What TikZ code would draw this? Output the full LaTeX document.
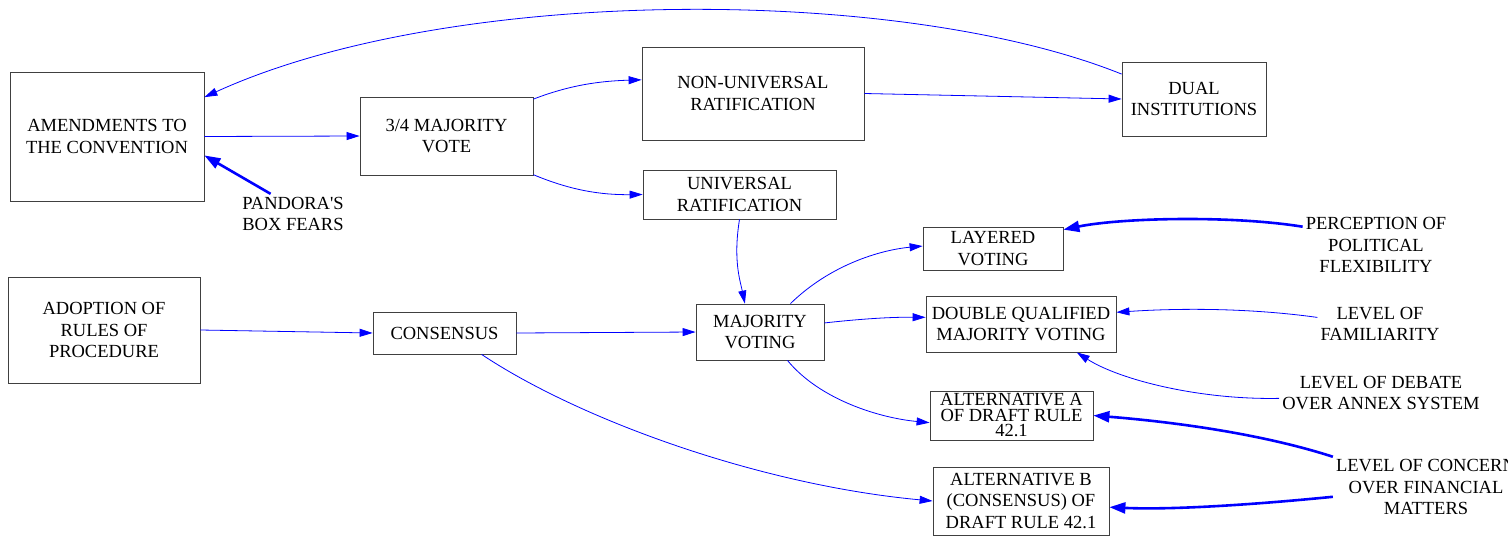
\documentclass[tikz,border=0pt]{standalone}
\usepackage{fontspec}
\setmainfont{Liberation Serif}
\usetikzlibrary{arrows.meta}
\begin{document}
\begin{tikzpicture}[x=1pt,y=-1pt,
    box/.style={draw=black!75,line width=0.8pt,align=center,inner sep=0pt,font=\fontsize{18.5}{21.5}\selectfont},
    lbl/.style={align=center,inner sep=3pt,font=\fontsize{18.5}{21.5}\selectfont},
    link/.style={blue,line width=0.8pt,-{Triangle[length=13pt,width=8pt]}},
    heavy/.style={blue,line width=2.6pt,-{Triangle[length=16pt,width=11pt]}}]
  \useasboundingbox (0,0) rectangle (1508,536);
  \clip (0,0) rectangle (1508,536);
  \node[box,minimum width=194,minimum height=129] (amend) at (107,136.5) {AMENDMENTS TO\\THE CONVENTION};
  \node[box,minimum width=173,minimum height=78] (maj34) at (446.5,136) {3/4 MAJORITY\\VOTE};
  \node[box,minimum width=222,minimum height=93] (nonuni) at (753,93.5) {NON-UNIVERSAL\\RATIFICATION};
  \node[box,minimum width=193,minimum height=49] (uni) at (739.5,194.5) {UNIVERSAL\\RATIFICATION};
  \node[box,minimum width=144,minimum height=74] (dual) at (1194,99) {DUAL\\INSTITUTIONS};
  \node[lbl] (pandora) at (293,214) {PANDORA\textquotesingle S\\BOX FEARS};
  \node[box,minimum width=192,minimum height=106] (adopt) at (104,330) {ADOPTION OF\\RULES OF\\PROCEDURE};
  \node[box,minimum width=143,minimum height=42] (cons) at (444.5,333) {CONSENSUS};
  \node[box,minimum width=128,minimum height=56] (majv) at (760,332) {MAJORITY\\VOTING};
  \node[box,minimum width=140,minimum height=43] (layer) at (993,248.5) {LAYERED\\VOTING};
  \node[box,minimum width=190,minimum height=56] (dqmv) at (1021,324) {DOUBLE QUALIFIED\\MAJORITY VOTING};
  \node[box,minimum width=163,minimum height=49,font=\fontsize{18.5}{15.5}\selectfont] (alta) at (1011.5,415.5) {ALTERNATIVE A\\OF DRAFT RULE\\42.1};
  \node[box,minimum width=176,minimum height=68] (altb) at (1021,501) {ALTERNATIVE B\\(CONSENSUS) OF\\DRAFT RULE 42.1};
  \node[lbl] (perc) at (1376,245) {PERCEPTION OF\\POLITICAL\\FLEXIBILITY};
  \node[lbl] (famil) at (1380,324) {LEVEL OF\\FAMILIARITY};
  \node[lbl] (debate) at (1381,393) {LEVEL OF DEBATE\\OVER ANNEX SYSTEM};
  \node[lbl] (concern) at (1426,487) {LEVEL OF CONCERN\\OVER FINANCIAL\\MATTERS};

  \draw[link] (dual.161.6) .. controls (900,-15) and (450,-15) .. (amend.22.7);
  \draw[link] (amend.east) -- (maj34.west);
  \draw[heavy] (pandora.138.5) -- (amend.-11);
  \draw[link] (maj34.23.2) .. controls (570,85) and (600,81) .. (nonuni.173.6);
  \draw[link] (maj34.-24.3) .. controls (570,190) and (600,195) .. (uni.west);
  \draw[link] (nonuni.east) -- (dual.west);
  \draw[link] (uni.south) .. controls (733,260) and (740,280) .. (majv.118);
  \draw[link] (adopt.east) -- (cons.west);
  \draw[link] (cons.east) -- (majv.west);
  \draw[link] (cons.-30.6) .. controls (580,420) and (760,485) .. (altb.west);
  \draw[link] (majv.43) .. controls (830,265) and (880,250) .. (layer.178);
  \draw[link] (majv.8) .. controls (860,319) and (890,317) .. (dqmv.176.4);
  \draw[link] (majv.-46) .. controls (820,400) and (880,418) .. (alta.185.3);
  \draw[heavy] (perc.166) .. controls (1230,215) and (1120,218) .. (layer.15);
  \draw[link] (famil.174) .. controls (1250,308) and (1180,308) .. (dqmv.7.2);
  \draw[link] (debate.183) .. controls (1200,400) and (1120,380) .. (dqmv.-27.4);
  \draw[heavy] (concern.162.7) .. controls (1250,430) and (1150,420) .. (alta.east);
  \draw[heavy] (concern.186) .. controls (1250,505) and (1170,510) .. (altb.-4.5);
\end{tikzpicture}
\end{document}
